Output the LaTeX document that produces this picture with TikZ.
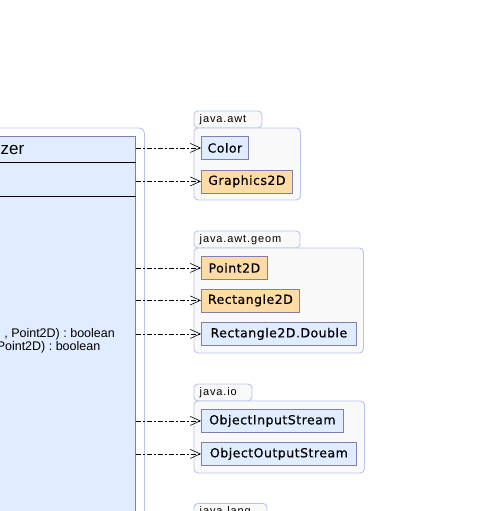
\documentclass[tikz,border=0pt]{standalone}
\usepackage{fontspec}
\setmainfont{Liberation Sans}
\newfontfamily\clsfont[LetterSpace=4,FakeBold=0.4]{DejaVu Sans}
\newfontfamily\pkgfont[LetterSpace=8]{Liberation Sans}
\usetikzlibrary{arrows.meta,positioning,calc}
\definecolor{clsblue}{HTML}{E0ECFF}
\definecolor{clsline}{HTML}{7E7EB0}
\definecolor{absorange}{HTML}{FFDBA6}
\definecolor{pkgfill}{HTML}{F9F9F9}
\definecolor{pkgline}{HTML}{B8C2F2}
\tikzset{
  pkgbody/.style={draw=pkgline, fill=pkgfill, rounded corners=4pt, line width=0.9pt,
                  anchor=north west, inner sep=0pt},
  pkgtab/.style={pkgbody, minimum height=17pt},
  tablabel/.style={font=\pkgfont\fontsize{11}{13}\selectfont, anchor=west, inner sep=0pt},
  typebox/.style={draw=clsline, fill=clsblue, line width=0.8pt, anchor=north west,
                  minimum height=23pt, inner xsep=5pt, inner ysep=0pt,
                  font=\clsfont\fontsize{12.5}{14}\selectfont},
  absbox/.style={typebox, fill=absorange},
  memb/.style={font=\fontsize{12.5}{14}\selectfont, anchor=base east, inner sep=0pt},
  dep/.style={-{Straight Barb[length=10pt,width=9pt]}, line width=0.6pt,
              dash pattern=on 5pt off 2pt on 2pt off 2pt}}

\begin{document}
\begin{tikzpicture}[x=1pt, y=-1pt]
  \useasboundingbox (0,0) rectangle (486,511);
  \clip (0,0) rectangle (486,511);
  % left side: the class, cut by the border
  \node[pkgbody, fill=white, rounded corners=5pt, minimum width=154pt, minimum height=420pt] (outer) at (-10,127.5) {};
  \node[draw=clsline, fill=clsblue, line width=0.8pt, anchor=north east,
        minimum width=150pt, minimum height=400pt] (cls) at (135.5,136) {};
  \node[anchor=base east, inner sep=0pt, font=\fontsize{17}{20}\selectfont] (hdr) at (24.5,154) {zer};
  \draw[line width=0.8pt] ($(cls.north west)+(0,26)$) -- ($(cls.north east)+(0,26)$);
  \draw[line width=0.8pt] ($(cls.north west)+(0,60)$) -- ($(cls.north east)+(0,60)$);
  \node[memb] (m1) at (115,337) {, Point2D) : boolean};
  \node[memb] (m2) at (100.5,350.5) {Point2D) : boolean};

  % java.awt
  \node[pkgtab, minimum width=68pt] (awttab) at (193.5,110.5) {};
  \node[tablabel] at ([xshift=6pt]awttab.west) {java.awt};
  \node[pkgbody, minimum width=106.5pt, minimum height=72pt] (awt) at (193.5,127.5) {};
  \node[typebox, minimum width=47pt] (color) at (201,136) {Color};
  \node[absbox, minimum width=91pt] (g2d) at (201,169.5) {Graphics2D};

  % java.awt.geom
  \node[pkgtab, minimum width=106pt] (geomtab) at (193.5,230.5) {};
  \node[tablabel] at ([xshift=6pt]geomtab.west) {java.awt.geom};
  \node[pkgbody, minimum width=169.5pt, minimum height=105pt] (geom) at (193.5,247.5) {};
  \node[absbox, minimum width=66pt] (pt2d) at (201,256) {Point2D};
  \node[absbox, minimum width=98pt] (rect2d) at (201,288.5) {Rectangle2D};
  \node[typebox, minimum width=155pt] (rectdbl) at (201,322) {Rectangle2D.Double};

  % java.io
  \node[pkgtab, minimum width=58pt] (iotab) at (193.5,383.5) {};
  \node[tablabel] at ([xshift=6pt]iotab.west) {java.io};
  \node[pkgbody, minimum width=170.5pt, minimum height=72pt] (io) at (193.5,400.5) {};
  \node[typebox, minimum width=142pt] (ois) at (201,409) {ObjectInputStream};
  \node[typebox, minimum width=155pt] (oos) at (201,442) {ObjectOutputStream};

  % java.lang
  \node[pkgtab, minimum width=73pt] (langtab) at (193.5,503) {};
  \node[tablabel] at ([xshift=6pt]langtab.west) {java.lang};

  \draw[dep] (cls.east |- color) -- (color.west);
  \draw[dep] (cls.east |- g2d) -- (g2d.west);
  \draw[dep] (cls.east |- pt2d) -- (pt2d.west);
  \draw[dep] (cls.east |- rect2d) -- (rect2d.west);
  \draw[dep] (cls.east |- rectdbl) -- (rectdbl.west);
  \draw[dep] (cls.east |- ois) -- (ois.west);
  \draw[dep] (cls.east |- oos) -- (oos.west);
\end{tikzpicture}
\end{document}
